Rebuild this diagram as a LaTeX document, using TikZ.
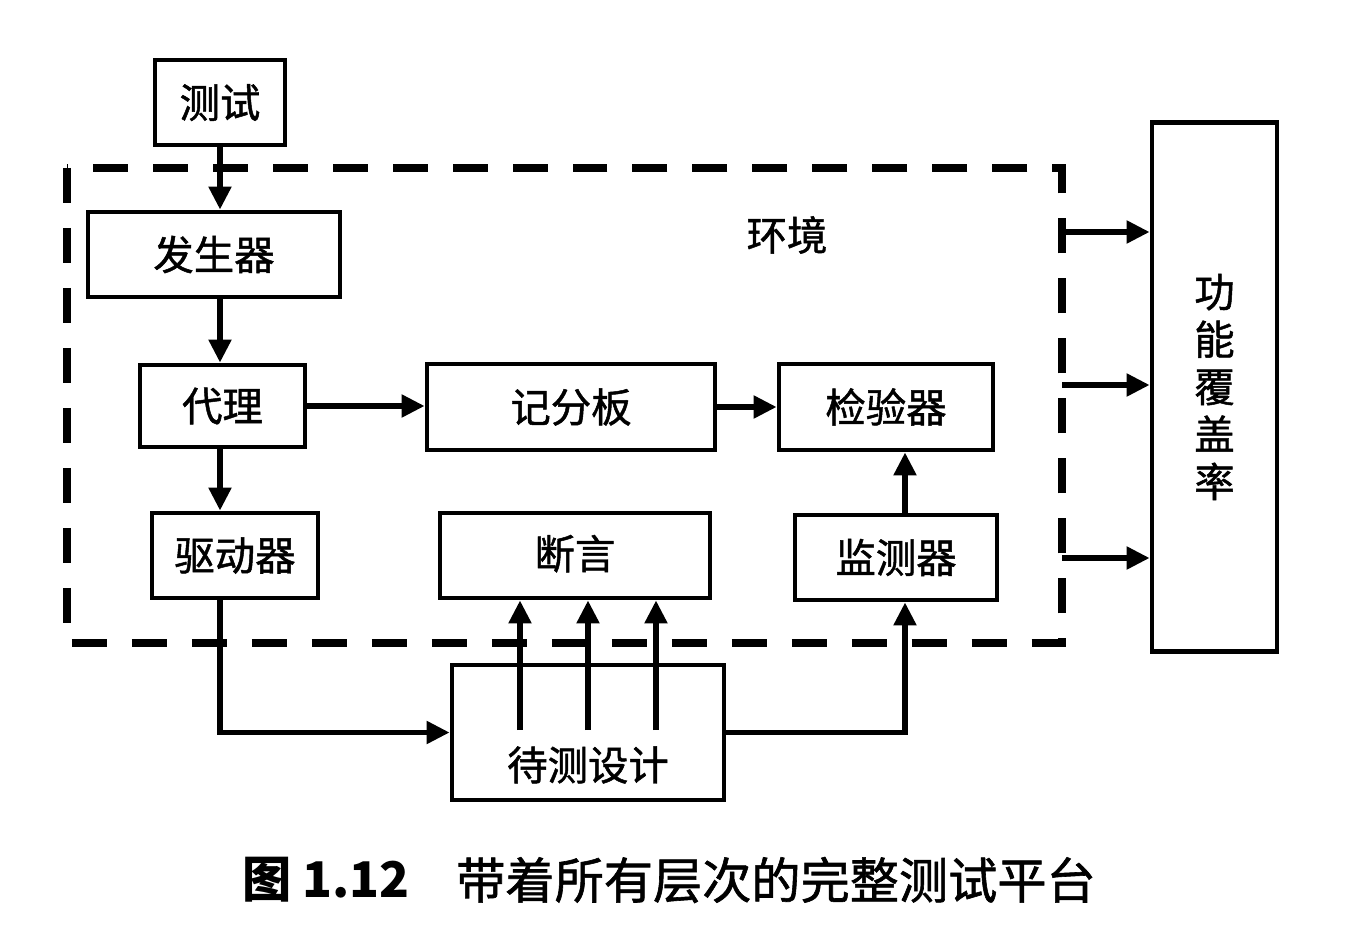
\documentclass[tikz,border=0pt]{standalone}
\usepackage{fontspec}
\setmainfont{Noto Sans CJK SC}
\newfontfamily\cjkb{Noto Sans CJK SC}[FakeBold=1.2]
\usetikzlibrary{arrows.meta}
\begin{document}
\begin{tikzpicture}[x=0.02cm,y=-0.02cm,
  box/.style={draw,line width=2.8pt,inner sep=0pt,font=\cjkb\fontsize{23}{27}\selectfont},
  lbl/.style={inner sep=0pt,font=\cjkb\fontsize{23}{27}\selectfont},
  arr/.style={line width=3pt,-{Triangle[length=0.46cm,width=0.44cm]}},
  env/.style={line width=4.6pt,dash pattern=on 0.7cm off 0.5cm}]
\useasboundingbox (0,0) rectangle (1351,932);
% environment
\draw[env] (67,168) rectangle (1062,643);
\node[lbl] (envl) at (787,235) {环境};
% boxes
\node[box,minimum width=2.6cm,minimum height=1.7cm] (cs) at (220,102.5) {测试};
\node[box,minimum width=5.04cm,minimum height=1.7cm] (fs) at (214,254.5) {发生器};
\node[box,minimum width=3.3cm,minimum height=1.64cm] (dl) at (222.5,406) {代理};
\node[box,minimum width=5.76cm,minimum height=1.72cm] (jf) at (571,407) {记分板};
\node[box,minimum width=4.28cm,minimum height=1.72cm] (jy) at (886,407) {检验器};
\node[box,minimum width=3.32cm,minimum height=1.7cm] (qd) at (235,555.5) {驱动器};
\node[box,minimum width=5.4cm,minimum height=1.7cm] (dy) at (575,555.5) {\raisebox{4pt}{断言}};
\node[box,minimum width=4.04cm,minimum height=1.7cm] (jc) at (896,557.5) {监测器};
\node[box,minimum width=5.44cm,minimum height=2.7cm] (dut) at (588,732.5) {};
\node[lbl] (dutl) at (588,765) {待测设计};
\node[box,minimum width=2.5cm,minimum height=10.6cm,align=center] (cov) at (1214.5,387) {功\\能\\覆\\盖\\率};
% connectors
\coordinate (mx) at (905,0);
\coordinate (a1) at (520,730);
\coordinate (a2) at (588,730);
\coordinate (a3) at (656,730);
\coordinate (c1) at (1062,232);
\coordinate (c2) at (1062,385);
\coordinate (c3) at (1062,558);
\draw[arr] (cs.south) -- (cs.south |- fs.north);
\draw[arr] (cs.south |- fs.south) -- (cs.south |- dl.north);
\draw[arr] (cs.south |- dl.south) -- (cs.south |- qd.north);
\draw[arr] (dl.east) -- (dl.east -| jf.west);
\draw[arr] (jf.east) -- (jf.east -| jy.west);
\draw[arr] (cs.south |- qd.south) |- (dut.west);
\draw[arr] (dut.east) -| (mx |- jc.south);
\draw[arr] (mx |- jc.north) -- (mx |- jy.south);
\foreach \a in {a1,a2,a3} \draw[arr] (\a) -- (\a |- dy.south);
\foreach \c in {c1,c2,c3} \draw[arr] (\c) -- (\c -| cov.west);
% caption
\node[inner sep=0pt,font=\fontsize{28}{30}\selectfont\bfseries] (capn) at (326,880) {图 1.12};
\node[inner sep=0pt,font=\cjkb\fontsize{28}{30}\selectfont] (capt) at (776,880) {带着所有层次的完整测试平台};
\end{tikzpicture}
\end{document}
